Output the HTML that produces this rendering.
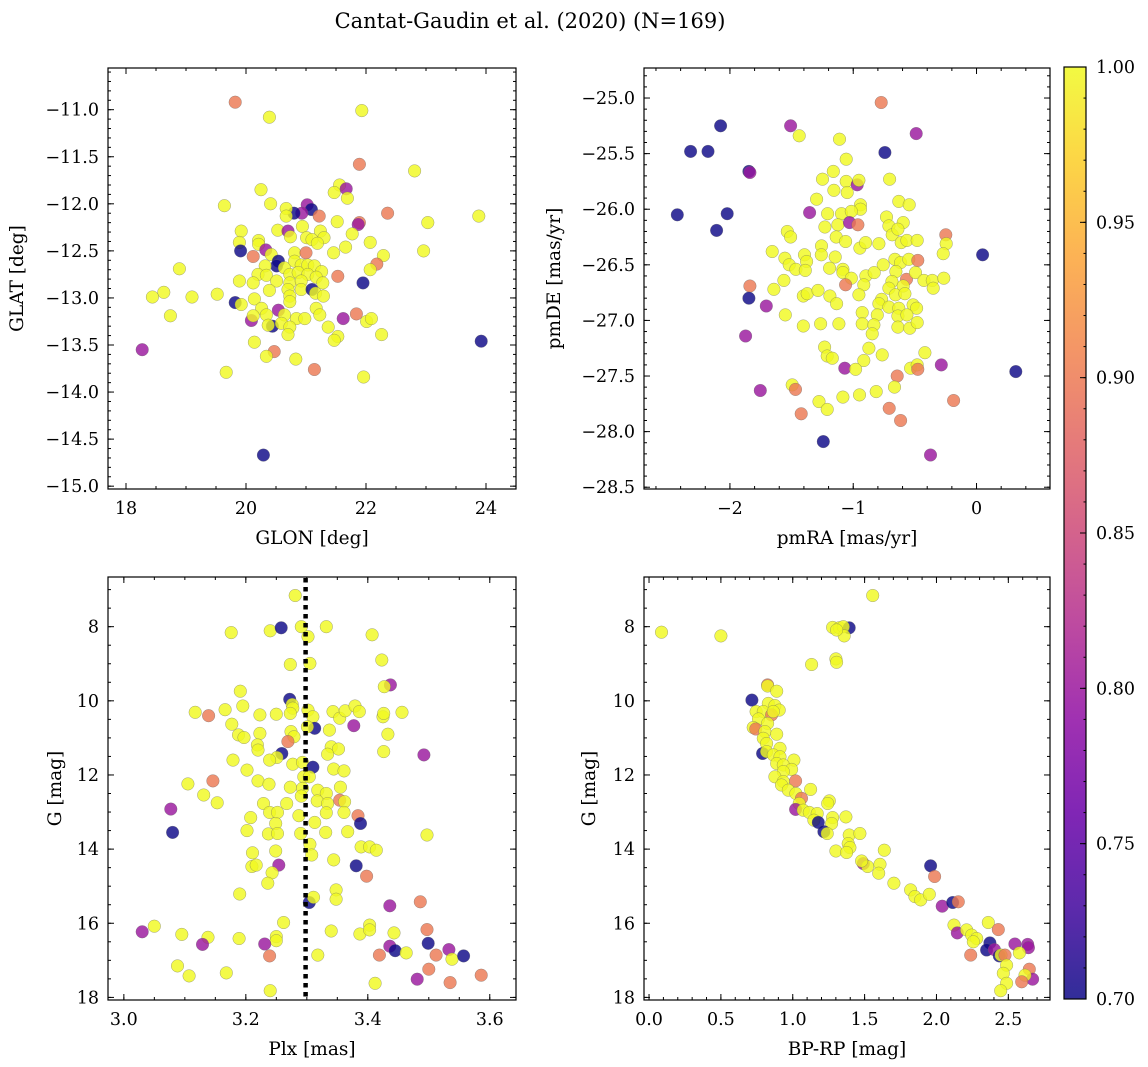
<!DOCTYPE html>
<html><head><meta charset="utf-8">
<style>
html,body{margin:0;padding:0;background:#fff;}
svg{display:block;font-family:"DejaVu Serif","Liberation Serif",serif;}
</style></head>
<body>
<svg id="fig" width="1148" height="1067" viewBox="0 0 1148 1067" xmlns="http://www.w3.org/2000/svg">
<rect width="1148" height="1067" fill="#fff"/>
<text x="530" y="28" font-size="21" text-anchor="middle">Cantat-Gaudin et al. (2020) (N=169)</text>
</svg>
<script>
// ---- Panel 1: GLON vs GLAT ----
const glonX=[19.82,20.39,21.93,21.89,22.81,21.56,21.67,21.47,21.69,20.25,19.64,20.41,21.02,21.09,20.93,20.80,20.67,20.67,21.22,22.36,23.88,23.03,21.89,21.87,21.52,19.92,20.53,20.70,20.94,21.24,21.77,20.74,21.01,21.10,21.30,21.19,20.21,19.89,20.21,22.07,21.66,22.96,19.91,20.33,20.42,20.81,21.00,21.46,22.29,20.12,20.54,20.51,22.18,22.07,18.89,20.32,20.64,20.81,20.92,21.03,21.14,21.26,20.20,20.34,20.73,20.87,21.03,21.17,21.53,19.89,20.12,20.51,20.73,20.92,21.28,21.95,18.63,18.44,19.10,19.52,20.39,20.70,20.92,21.10,21.16,21.29,20.73,20.14,19.82,19.92,20.26,20.54,20.73,21.17,18.74,20.09,20.12,20.34,20.64,20.84,20.98,21.23,21.62,21.84,22.01,22.09,20.44,20.37,20.59,20.73,21.37,20.70,21.53,21.47,22.26,18.27,23.92,20.14,20.47,20.34,20.83,21.14,19.67,21.96,20.29];
const glatY=[-10.92,-11.08,-11.01,-11.58,-11.65,-11.80,-11.84,-11.88,-11.94,-11.85,-12.02,-12.00,-12.01,-12.06,-12.10,-12.10,-12.05,-12.13,-12.13,-12.10,-12.13,-12.20,-12.20,-12.22,-12.19,-12.29,-12.28,-12.29,-12.24,-12.29,-12.32,-12.35,-12.36,-12.38,-12.36,-12.42,-12.39,-12.41,-12.43,-12.41,-12.46,-12.50,-12.50,-12.49,-12.54,-12.52,-12.52,-12.52,-12.55,-12.56,-12.61,-12.66,-12.64,-12.70,-12.69,-12.66,-12.68,-12.61,-12.65,-12.65,-12.66,-12.72,-12.75,-12.76,-12.75,-12.73,-12.75,-12.78,-12.77,-12.82,-12.84,-12.82,-12.84,-12.82,-12.84,-12.84,-12.94,-12.99,-12.99,-12.96,-12.92,-12.91,-12.91,-12.91,-12.95,-12.98,-12.98,-13.01,-13.05,-13.07,-13.11,-13.13,-13.04,-13.11,-13.19,-13.24,-13.19,-13.18,-13.18,-13.22,-13.22,-13.18,-13.22,-13.17,-13.25,-13.22,-13.30,-13.29,-13.27,-13.31,-13.31,-13.39,-13.41,-13.45,-13.39,-13.55,-13.46,-13.47,-13.57,-13.62,-13.65,-13.76,-13.79,-13.84,-14.67];
const glatP=[0.9,1,1,0.9,1,1,0.8,1,1,1,1,1,0.8,0.7,0.8,0.7,1,1,0.9,0.9,1,1,0.9,0.8,1,1,1,0.8,1,1,1,1,1,1,1,1,1,1,1,1,1,1,0.7,0.8,1,1,0.9,1,1,0.9,0.7,0.7,0.9,1,1,1,1,1,1,1,1,1,1,1,1,1,1,1,0.9,1,1,1,1,1,1,0.7,1,1,1,1,1,1,1,0.7,1,1,1,1,0.7,1,1,0.8,1,1,1,0.8,1,1,1,1,1,1,0.8,0.9,1,1,0.7,1,1,1,1,1,1,1,1,0.8,0.7,1,0.9,1,1,0.9,1,1,0.7];
// ---- Panel 2: pmRA vs pmDE ----
const pmraX=[-0.773,-2.076,-1.508,-1.438,-1.111,-0.489,-2.319,-2.178,-0.743,-1.057,-1.846,-1.838,-1.249,-1.162,-1.057,-0.968,-0.954,-0.705,-1.157,-1.049,-1.297,-0.941,-0.941,-0.630,-0.546,-2.427,-2.022,-1.354,-1.208,-1.095,-1.016,-2.108,-1.230,-1.124,-1.030,-0.962,-0.730,-0.711,-0.595,-1.535,-1.508,-1.138,-1.062,-0.946,-0.900,-0.792,-0.684,-0.638,-0.611,-0.565,-0.481,-0.249,-0.246,-0.270,0.049,-1.657,-1.257,-1.259,-1.395,-1.146,-1.554,-1.519,-1.378,-0.757,-0.662,-0.616,-0.549,-0.476,-1.465,-1.389,-1.192,-1.084,-1.084,-1.016,-0.897,-0.830,-0.654,-0.686,-0.568,-0.495,-0.427,-0.359,-0.265,-1.838,-1.562,-1.643,-1.062,-0.914,-0.711,-0.595,-0.351,-1.846,-1.405,-1.373,-1.286,-1.189,-0.954,-0.770,-0.657,-0.581,-1.705,-1.135,-0.792,-0.711,-0.630,-0.514,-0.486,-1.551,-0.927,-0.805,-0.638,-0.565,-1.405,-1.265,-1.116,-0.927,-0.832,-0.638,-0.541,-0.481,-1.873,-0.846,-1.232,-1.211,-1.170,-0.873,-0.765,-0.914,-0.419,-1.068,-0.981,-0.535,-0.481,-0.476,-0.286,0.319,-0.643,-0.665,-1.495,-1.468,-1.754,-1.084,-0.949,-0.814,-0.186,-1.278,-1.211,-1.422,-0.708,-0.616,-1.243,-0.373];
const pmdeY=[-25.04,-25.25,-25.25,-25.34,-25.37,-25.32,-25.48,-25.48,-25.49,-25.55,-25.66,-25.67,-25.73,-25.66,-25.75,-25.78,-25.74,-25.73,-25.83,-25.85,-25.91,-25.96,-26.00,-25.93,-25.96,-26.05,-26.04,-26.03,-26.04,-26.04,-26.02,-26.19,-26.16,-26.14,-26.12,-26.14,-26.07,-26.15,-26.12,-26.20,-26.25,-26.25,-26.29,-26.35,-26.30,-26.31,-26.23,-26.18,-26.30,-26.28,-26.28,-26.23,-26.31,-26.40,-26.41,-26.38,-26.33,-26.41,-26.41,-26.43,-26.44,-26.50,-26.47,-26.50,-26.45,-26.48,-26.45,-26.46,-26.54,-26.55,-26.53,-26.54,-26.57,-26.62,-26.60,-26.57,-26.56,-26.65,-26.63,-26.57,-26.64,-26.64,-26.62,-26.69,-26.64,-26.72,-26.68,-26.68,-26.71,-26.69,-26.71,-26.80,-26.78,-26.76,-26.73,-26.78,-26.77,-26.81,-26.77,-26.76,-26.87,-26.85,-26.85,-26.88,-26.89,-26.86,-26.89,-26.95,-26.93,-26.95,-26.96,-26.95,-27.05,-27.03,-27.03,-27.03,-27.04,-27.06,-27.07,-27.02,-27.14,-27.12,-27.24,-27.32,-27.34,-27.25,-27.31,-27.36,-27.29,-27.43,-27.44,-27.43,-27.40,-27.44,-27.40,-27.46,-27.50,-27.60,-27.58,-27.62,-27.63,-27.69,-27.67,-27.64,-27.72,-27.73,-27.80,-27.84,-27.79,-27.90,-28.09,-28.21];
const pmP=[0.9,0.7,0.8,1,1,0.8,0.7,0.7,0.7,1,0.7,0.8,1,1,1,0.8,1,1,1,1,1,1,1,1,1,0.7,0.7,0.8,1,1,1,0.7,1,1,0.8,0.9,1,1,1,1,1,1,1,1,1,1,1,1,1,1,1,0.9,1,1,0.7,1,1,1,1,1,1,1,1,1,1,1,1,0.9,1,1,1,1,1,1,1,1,1,1,0.9,1,1,1,1,0.9,1,1,0.9,1,1,1,1,0.7,1,1,1,1,1,1,1,1,0.8,1,1,1,1,1,1,1,1,1,1,1,1,1,1,1,1,1,1,1,0.8,1,1,1,1,1,1,1,1,0.8,1,1,1,0.9,0.8,0.7,0.9,1,1,0.9,0.8,1,1,1,0.9,1,1,0.9,0.9,0.9,0.7,0.8];
// ---- Panel 3: Plx vs G ----
const plxX=[3.281,3.176,3.240,3.258,3.291,3.302,3.332,3.407,3.273,3.305,3.423,3.437,3.427,3.191,3.272,3.276,3.277,3.195,3.166,3.117,3.139,3.223,3.250,3.273,3.302,3.310,3.343,3.354,3.363,3.379,3.386,3.425,3.426,3.456,3.177,3.313,3.301,3.377,3.337,3.188,3.197,3.223,3.274,3.279,3.269,3.433,3.219,3.220,3.340,3.352,3.334,3.426,3.492,3.259,3.251,3.239,3.179,3.277,3.293,3.310,3.202,3.344,3.361,3.220,3.238,3.295,3.304,3.105,3.146,3.273,3.293,3.318,3.332,3.355,3.131,3.153,3.291,3.317,3.334,3.354,3.362,3.229,3.267,3.077,3.239,3.252,3.287,3.332,3.361,3.384,3.208,3.313,3.388,3.249,3.080,3.202,3.237,3.252,3.290,3.331,3.367,3.497,3.305,3.389,3.403,3.414,3.211,3.249,3.308,3.344,3.254,3.210,3.217,3.381,3.243,3.398,3.236,3.190,3.348,3.348,3.304,3.311,3.436,3.486,3.262,3.050,3.030,3.095,3.138,3.129,3.189,3.250,3.250,3.231,3.239,3.318,3.340,3.387,3.403,3.403,3.443,3.497,3.499,3.436,3.445,3.419,3.463,3.512,3.533,3.538,3.557,3.500,3.088,3.107,3.168,3.481,3.535,3.586,3.412,3.240];
const plxG=[7.16,8.16,8.11,8.03,8.00,8.27,8.00,8.22,9.02,8.99,8.90,9.57,9.62,9.74,9.96,10.10,10.20,10.14,10.24,10.31,10.40,10.38,10.36,10.34,10.25,10.43,10.29,10.47,10.27,10.14,10.29,10.43,10.34,10.31,10.63,10.74,10.70,10.67,10.79,10.92,10.99,10.88,10.83,10.97,11.10,10.90,11.19,11.33,11.24,11.30,11.44,11.37,11.46,11.42,11.53,11.60,11.60,11.71,11.66,11.79,11.87,11.84,11.89,12.16,12.25,12.05,12.05,12.24,12.16,12.33,12.36,12.41,12.50,12.33,12.54,12.75,12.57,12.70,12.77,12.68,12.72,12.77,12.77,12.92,13.01,13.01,13.10,13.02,13.01,13.10,13.15,13.28,13.31,13.31,13.55,13.50,13.59,13.58,13.58,13.55,13.53,13.62,13.87,13.94,13.94,14.03,14.10,14.05,14.16,14.29,14.43,14.47,14.43,14.45,14.64,14.73,14.92,15.21,15.10,15.35,15.44,15.30,15.53,15.42,15.98,16.08,16.23,16.30,16.38,16.57,16.41,16.36,16.47,16.56,16.88,16.86,16.21,16.29,16.05,16.18,16.26,16.17,16.54,16.62,16.74,16.86,16.80,16.86,16.71,16.97,16.88,17.24,17.15,17.42,17.34,17.51,17.60,17.40,17.62,17.82];
const plxP=[1,1,1,0.7,1,1,1,1,1,1,1,0.8,1,1,0.7,1,1,1,1,1,0.9,1,1,1,1,1,1,1,1,1,1,1,1,1,1,0.7,1,0.8,1,1,1,1,1,1,0.9,1,1,1,1,1,1,1,0.8,0.7,1,1,1,1,1,0.7,1,1,1,1,1,1,1,1,0.9,1,1,1,1,1,1,1,1,1,1,0.9,1,1,1,0.8,1,1,1,1,1,0.9,1,1,0.7,1,0.7,1,1,1,1,1,1,1,1,1,1,1,1,1,1,1,0.8,1,1,0.7,1,0.9,1,1,1,1,0.7,1,0.8,0.9,1,1,0.8,1,1,0.8,1,1,1,0.8,0.9,1,1,1,1,1,1,0.9,0.7,0.8,0.7,0.9,1,0.9,0.8,1,0.7,0.9,1,1,1,0.8,0.9,0.9,1,1];
const plxMean=[3.298];
// ---- Panel 4: BP-RP vs G ----
const bprpX=[0.087,0.50,1.556,1.277,1.324,1.393,1.352,1.358,1.305,1.131,1.300,1.305,0.825,0.825,0.888,0.716,0.830,0.876,0.906,0.745,0.795,0.853,0.865,0.762,0.825,0.725,0.743,0.806,0.888,0.795,0.818,0.911,0.790,0.818,0.865,0.911,1.008,0.888,0.934,0.992,0.934,0.876,1.020,0.934,0.922,0.969,1.124,1.022,1.061,1.045,1.254,1.243,1.020,1.073,1.115,1.170,1.277,1.370,1.147,1.178,1.270,1.217,1.240,1.393,1.467,1.386,1.398,1.300,1.375,1.637,1.491,1.521,1.479,1.607,1.598,1.959,1.987,1.704,1.820,1.850,1.890,1.950,2.040,2.113,2.152,2.122,2.145,2.210,2.245,2.280,2.256,2.361,2.430,2.372,2.349,2.403,2.437,2.449,2.477,2.488,2.465,2.488,2.447,2.238,2.546,2.635,2.640,2.577,2.646,2.669,2.616,2.593];
const bprpG=[8.15,8.25,7.16,8.02,8.03,8.03,8.00,8.25,8.09,9.02,8.87,8.96,9.57,9.60,9.74,9.98,10.07,10.13,10.25,10.29,10.29,10.38,10.29,10.49,10.61,10.72,10.76,10.83,10.90,11.01,11.15,11.28,11.42,11.37,11.46,11.51,11.60,11.69,11.73,11.85,11.91,12.05,12.16,12.18,12.27,12.41,12.39,12.50,12.63,12.77,12.70,12.77,12.93,12.95,13.01,13.04,13.15,13.13,13.22,13.28,13.31,13.53,13.58,13.62,13.58,13.85,13.96,14.05,14.09,14.03,14.39,14.47,14.32,14.41,14.65,14.45,14.74,14.92,15.10,15.28,15.37,15.22,15.54,15.44,15.42,16.05,16.26,16.18,16.32,16.41,16.50,15.98,16.17,16.53,16.72,16.71,16.88,16.86,16.86,17.13,17.35,17.62,17.82,16.86,16.56,16.57,16.66,16.80,17.24,17.51,17.40,17.58];
const bprpP=[1,1,1,1,1,0.7,1,1,1,1,1,1,0.9,1,1,0.7,1,1,1,1,1,0.9,1,1,1,1,0.9,1,1,1,1,1,0.7,1,1,1,1,1,1,1,1,1,0.9,1,1,1,1,1,0.9,1,1,1,0.8,1,1,1,1,1,1,0.7,1,0.7,1,1,1,1,1,1,1,1,0.8,1,1,1,1,0.7,0.9,1,1,1,1,1,0.8,0.7,0.9,1,0.8,1,1,1,1,1,0.9,0.7,0.7,0.8,0.7,1,0.9,1,1,1,1,0.9,0.8,0.8,0.8,1,0.9,0.8,1,0.9];
// ---- Colorbar ----
const cbTicks=[0.70,0.75,0.80,0.85,0.90,0.95,1.00];
const cbRange=[0.70,1.00];

const NS="http://www.w3.org/2000/svg";
const svg=document.getElementById('fig');
const TICK_FS=17.5, LABEL_FS=18.5;
function mk(tag,attrs,parent){const e=document.createElementNS(NS,tag);for(const k in attrs)e.setAttribute(k,attrs[k]);(parent||svg).appendChild(e);return e;}
const plasma=[[13,8,135],[65,4,157],[106,0,168],[143,13,164],[177,42,144],[204,71,120],[225,100,98],[242,132,75],[252,166,54],[252,206,37],[240,249,33]];
function cmap(v){let t=(v-cbRange[0])/(cbRange[1]-cbRange[0]);t=Math.max(0,Math.min(1,t));const f=t*10,i=Math.min(9,Math.floor(f)),r=f-i;const a=plasma[i],b=plasma[i+1];return 'rgb('+[0,1,2].map(k=>Math.round(a[k]+(b[k]-a[k])*r)).join(',')+')';}
function fmtNum(v,d){return (v<0?'\u2212':'')+Math.abs(v).toFixed(d);}

function panel(cfg){
  const {name,L,R,T,B,xlim,ylim,xmaj,xmin,ymaj,ymin,xd,yd,xlabel,ylabel,ylabX}=cfg;
  const sx=v=>L+(v-xlim[0])/(xlim[1]-xlim[0])*(R-L);
  const sy=v=>B-(v-ylim[0])/(ylim[1]-ylim[0])*(B-T);
  const g=mk('g',{});
  
  
  const pts=mk('g',{},g);
  
  
  for(let i=0;i<cfg.xs.length;i++){
    const c=mk('circle',{cx:sx(cfg.xs[i]).toFixed(1),cy:sy(cfg.ys[i]).toFixed(1),r:6.3,fill:cmap(cfg.ps[i]),'fill-opacity':0.82,stroke:'#666','stroke-opacity':0.6,'stroke-width':0.5},pts);
    
    
  }
  if(cfg.vline!==undefined){
    const l=mk('line',{x1:sx(cfg.vline),x2:sx(cfg.vline),y1:T+1,y2:B,stroke:'#000','stroke-width':4.5,'stroke-dasharray':'4.5 4.5'},g);
    
    
  }
  const ax=mk('g',{stroke:'#000','stroke-width':1},g);
  
  
  const step=(s,lim,f)=>{const lo=Math.min(...lim),hi=Math.max(...lim);for(let k=Math.ceil(lo/s-1e-6);k*s<=hi+1e-9;k++)f(k*s);};
  step(xmin,xlim,v=>{const x=sx(v);mk('line',{x1:x,x2:x,y1:B,y2:B-3},ax);mk('line',{x1:x,x2:x,y1:T,y2:T+3},ax);});
  step(ymin,ylim,v=>{const y=sy(v);mk('line',{x1:L,x2:L+3,y1:y,y2:y},ax);mk('line',{x1:R,x2:R-3,y1:y,y2:y},ax);});
  step(xmaj,xlim,v=>{const x=sx(v);mk('line',{x1:x,x2:x,y1:B,y2:B-6},ax);mk('line',{x1:x,x2:x,y1:T,y2:T+6},ax);
    const t=mk('text',{x:x,y:B+25,'font-size':TICK_FS,'text-anchor':'middle',stroke:'none',fill:'#000'},g);t.textContent=fmtNum(Math.abs(v)<1e-9?0:v,xd);
    });
  step(ymaj,ylim,v=>{const y=sy(v);mk('line',{x1:L,x2:L+6,y1:y,y2:y},ax);mk('line',{x1:R,x2:R-6,y1:y,y2:y},ax);
    const t=mk('text',{x:L-9,y:y+6,'font-size':TICK_FS,'text-anchor':'end',stroke:'none',fill:'#000'},g);t.textContent=fmtNum(v,yd);
    });
  mk('rect',{x:L,y:T,width:R-L,height:B-T,fill:'none',stroke:'#000','stroke-width':1.2},ax);
  const xl=mk('text',{x:(L+R)/2,y:B+55,'font-size':LABEL_FS,'text-anchor':'middle'},g);xl.textContent=xlabel;
  
  const ym=(T+B)/2;
  const yl=mk('text',{x:ylabX,y:ym,'font-size':LABEL_FS,'text-anchor':'middle',transform:'rotate(-90 '+ylabX+' '+ym+')'},g);yl.textContent=ylabel;
  
}

panel({name:'glon-glat-panel',L:108,R:516,T:68,B:489,xlim:[17.7,24.5],ylim:[-15.03,-10.557],xmaj:2,xmin:0.5,ymaj:0.5,ymin:0.1,xd:0,yd:1,xlabel:'GLON [deg]',ylabel:'GLAT [deg]',ylabX:23,xs:glonX,ys:glatY,ps:glatP});
panel({name:'proper-motion-panel',L:644,R:1050,T:68,B:489,xlim:[-2.697,0.596],ylim:[-28.516,-24.73],xmaj:1,xmin:0.2,ymaj:0.5,ymin:0.1,xd:0,yd:1,xlabel:'pmRA [mas/yr]',ylabel:'pmDE [mas/yr]',ylabX:560,xs:pmraX,ys:pmdeY,ps:pmP});
panel({name:'parallax-mag-panel',L:108,R:516,T:577,B:1000,xlim:[2.974,3.643],ylim:[18.07,6.66],xmaj:0.2,xmin:0.05,ymaj:2,ymin:0.5,xd:1,yd:0,xlabel:'Plx [mas]',ylabel:'G [mag]',ylabX:61,xs:plxX,ys:plxG,ps:plxP,vline:plxMean[0]});
panel({name:'cmd-panel',L:644,R:1050,T:577,B:1000,xlim:[-0.035,2.79],ylim:[18.07,6.66],xmaj:0.5,xmin:0.1,ymaj:2,ymin:0.5,xd:1,yd:0,xlabel:'BP-RP [mag]',ylabel:'G [mag]',ylabX:595,xs:bprpX,ys:bprpG,ps:bprpP});

// colorbar
(function(){
  const L=1064,R=1086,T=67,B=999;
  const g=mk('g',{});
  
  
  const defs=mk('defs',{},g);
  const lg=mk('linearGradient',{id:'cbg',x1:0,y1:1,x2:0,y2:0},defs);
  for(let i=0;i<=20;i++){const v=cbRange[0]+(cbRange[1]-cbRange[0])*i/20;mk('stop',{offset:(i/20),'stop-color':cmap(v),'stop-opacity':0.85},lg);}
  const r=mk('rect',{x:L,y:T,width:R-L,height:B-T,fill:'url(#cbg)',stroke:'#000','stroke-width':1.2},g);
  
  const sy=v=>B-(v-cbRange[0])/(cbRange[1]-cbRange[0])*(B-T);
  for(let k=0;k<=30;k++){const v=cbRange[0]+k*0.01;const y=sy(v);mk('line',{x1:R,x2:R-2.5,y1:y,y2:y,stroke:'#000','stroke-width':1},g);}
  cbTicks.forEach(v=>{const y=sy(v);mk('line',{x1:R,x2:R-6,y1:y,y2:y,stroke:'#000','stroke-width':1},g);
    const t=mk('text',{x:R+10,y:y+6,'font-size':TICK_FS},g);t.textContent=v.toFixed(2);
    });
})();
</script>
</body></html>
